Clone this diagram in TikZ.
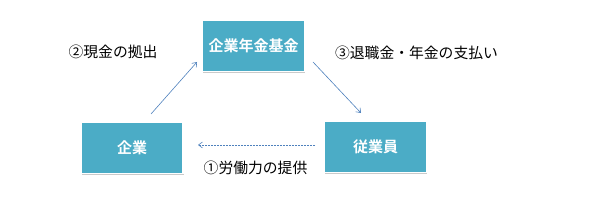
\documentclass[tikz,border=0pt]{standalone}
\usepackage{fontspec}
\newfontfamily\cjk{Noto Sans CJK JP}
\newfontfamily\cjkb{Noto Sans CJK JP Bold}
\usetikzlibrary{shadows,arrows.meta}
\definecolor{boxfill}{HTML}{4BACC6}
\definecolor{arrowc}{HTML}{4F81BD}
\begin{document}
\begin{tikzpicture}[x=1pt,y=-1pt,
  box/.style={draw=white,line width=1.5pt,fill=boxfill,minimum width=102pt,minimum height=51pt,
    inner sep=0pt,text=white,font=\cjkb\fontsize{15}{17}\selectfont,
    drop shadow={shadow xshift=0.5pt,shadow yshift=-1.5pt,opacity=0.35,fill=black!60}},
  lbl/.style={font=\cjk\fontsize{14.8}{16}\selectfont,text=black,inner sep=0pt},
  conn/.style={draw=arrowc,line width=0.6pt,-{Straight Barb[length=4pt,width=6pt]}}]
\useasboundingbox (0,0) rectangle (590,216);
\node[box] (fund) at (253.5,46) {企業年金基金};
\node[box] (corp) at (132,148) {企業};
\node[box] (emp) at (375.5,147) {従業員};
\node[lbl] (l2) at (113,52) {②現金の拠出};
\node[lbl] (l3) at (416.5,53) {③退職金・年金の支払い};
\node[lbl] (l1) at (255.5,168) {①労働力の提供};
\coordinate (a1s) at (151,114);
\coordinate (a1e) at (197,62);
\coordinate (a2s) at (313,62);
\coordinate (a2e) at (361,113);
\coordinate (a3s) at (315,145);
\coordinate (a3e) at (198,145);
\draw[conn] (a1s) -- (a1e);
\draw[conn] (a2s) -- (a2e);
\draw[conn,dashed,dash pattern=on 2pt off 1pt] (a3s) -- (a3e);
\end{tikzpicture}
\end{document}
